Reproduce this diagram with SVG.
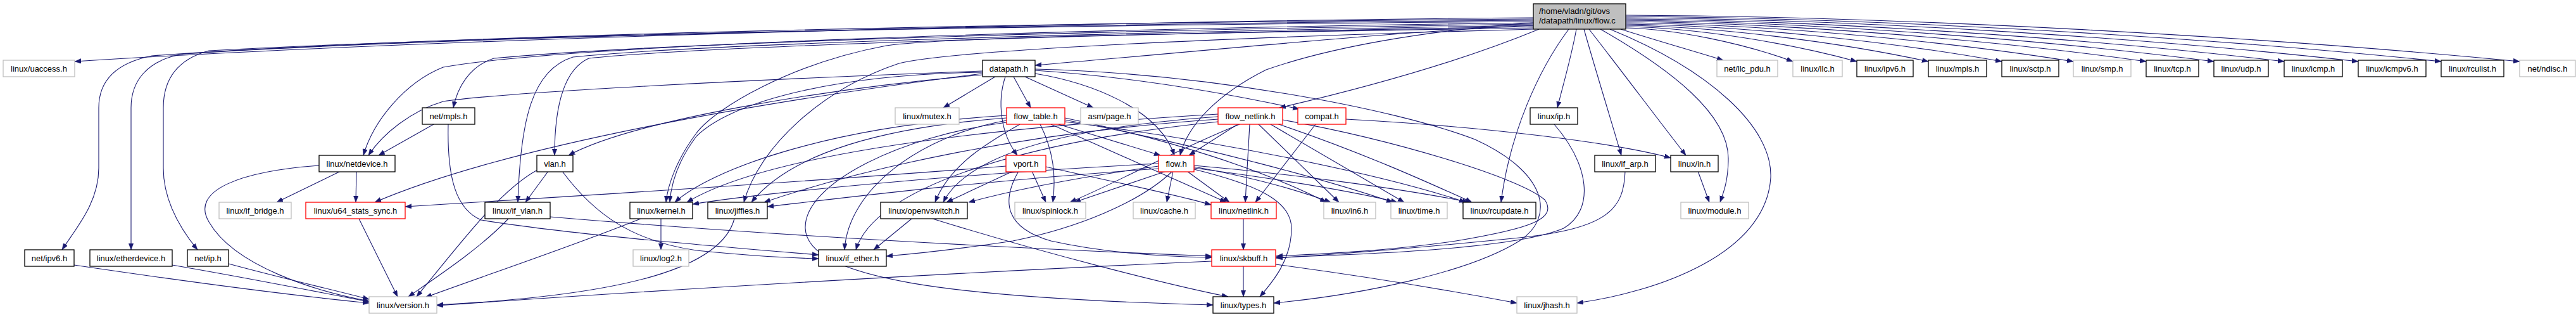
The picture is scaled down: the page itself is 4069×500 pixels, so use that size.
<svg xmlns="http://www.w3.org/2000/svg" width="4069" height="500" viewBox="0 0 4069 500">
<defs>
<marker id="a" markerUnits="userSpaceOnUse" markerWidth="11" markerHeight="8" refX="10" refY="3.75" orient="auto">
<path d="M0,0 L10,3.75 L0,7.5 z" fill="#191970" stroke="#191970" stroke-width="0.5"/>
</marker>
</defs>
<style>
.e path{fill:none;stroke:#191970;stroke-width:1.1;marker-end:url(#a)}
rect{fill:#fff;stroke-width:1.3}
.k rect{stroke:#000}
.g rect{stroke:#bfbfbf}
.r rect{stroke:#ff0000}
text{font-family:"Liberation Sans",Arial,sans-serif;font-size:13px;fill:#000;text-anchor:middle}
</style>
<rect x="0" y="0" width="4069" height="500" style="fill:#fff;stroke:none"/>
<g class="e" id="edges">
<path d="M2422,28 C1700,34 700,60 118,97"/>
<path d="M2422,30 C1600,36 700,55 240,88 C180,100 156,130 156,170 L156,265 C156,320 120,360 98,394"/>
<path d="M2422,32 C1600,38 700,58 290,85 C230,95 207,130 207,170 L207,394"/>
<path d="M2422,34 C1600,40 800,55 330,80 C275,95 258,130 258,170 L258,265 C258,310 280,355 312,394"/>
<path d="M2422,36 C1700,45 900,70 700,106 C640,130 590,190 574,245"/>
<path d="M2422,38 C1700,48 1000,70 780,92 C740,105 722,140 716,170"/>
<path d="M2422,40 C1700,52 1100,70 905,90 C840,110 822,190 818,319"/>
<path d="M2422,42 C1700,54 1100,74 930,92 C890,110 876,170 876,245"/>
<path d="M2422,44 C1900,52 1500,58 1400,72 C1250,100 1130,170 1100,210 C1070,250 1055,290 1052,319"/>
<path d="M2422,46 C1900,60 1500,80 1420,100 C1300,140 1200,230 1175,319"/>
<path d="M2422,40 C2200,50 1850,85 1635,103"/>
<path d="M2422,36 C2250,48 2100,75 2000,110 C1920,150 1875,200 1864,245"/>
<path d="M2431,46 C2300,100 2150,140 2021,170"/>
<path d="M2490,46 C2482,90 2470,130 2460,170"/>
<path d="M2478,46 C2430,110 2385,210 2371,319"/>
<path d="M2502,46 C2520,110 2545,190 2561,245"/>
<path d="M2510,46 C2560,110 2620,190 2663,245"/>
<path d="M2528,46 C2640,110 2730,180 2730,250 C2730,285 2722,305 2717,319"/>
<path d="M2543,46 C2700,110 2800,200 2797,280 C2790,400 2620,460 2491,478"/>
<path d="M2560,46 C2620,65 2680,82 2722,95"/>
<path d="M2568,44 C2647,46 2753,68 2832,97"/>
<path d="M2568,42 C2678,44 2824,67 2933,97"/>
<path d="M2568,40 C2711,42 2903,66 3046,97"/>
<path d="M2568,38 C2746,40 2984,65 3162,97"/>
<path d="M2568,36 C2780,38 3063,63 3275,97"/>
<path d="M2568,34 C2815,36 3143,62 3390,97"/>
<path d="M2568,32 C2847,34 3218,61 3497,97"/>
<path d="M2568,30 C2880,32 3296,60 3608,97"/>
<path d="M2568,28 C2915,30 3378,58 3725,97"/>
<path d="M2568,26 C2954,28 3470,57 3856,97"/>
<path d="M2568,24 C2992,26 3556,56 3980,97"/>
<path d="M1572,121 L1490,170"/>
<path d="M1601,121 L1628,170"/>
<path d="M1619,121 L1727,170"/>
<path d="M1588,121 C1575,160 1580,210 1607,245"/>
<path d="M1635,116 C1720,130 1830,170 1855,245"/>
<path d="M1635,111 C1800,122 1950,150 2052,172"/>
<path d="M1635,109 C1900,115 2200,170 2330,220 C2440,270 2460,340 2400,380 C2320,430 2150,465 2012,478"/>
<path d="M1552,112 C1200,125 800,145 700,160 C650,175 605,210 582,245"/>
<path d="M1552,116 C1200,160 800,230 592,319"/>
<path d="M1552,118 C1300,140 1000,190 898,245"/>
<path d="M1552,114 C1300,118 1150,165 1100,215 C1070,255 1060,290 1058,319"/>
<path d="M1611,196 C1560,225 1500,260 1477,319"/>
<path d="M1643,196 C1665,240 1668,280 1663,319"/>
<path d="M1672,196 L1833,245"/>
<path d="M1660,196 L1937,319"/>
<path d="M1590,182 C1300,200 1120,270 1066,319"/>
<path d="M1590,186 C1400,200 1250,240 1187,319"/>
<path d="M1590,190 C1450,215 1340,300 1334,394"/>
<path d="M1590,193 C1420,215 1270,290 1272,360 C1275,440 1500,470 1916,481"/>
<path d="M1682,186 C1850,220 2000,270 2095,319"/>
<path d="M1682,189 C1900,230 2100,285 2200,319"/>
<path d="M1682,192 C1950,225 2200,280 2315,319"/>
<path d="M1955,196 L1878,245"/>
<path d="M1974,196 L1967,319"/>
<path d="M1958,196 C1850,240 1760,290 1690,319"/>
<path d="M1988,196 L2115,319"/>
<path d="M2007,196 L2218,319"/>
<path d="M2017,195 C2150,240 2250,285 2325,319"/>
<path d="M1924,184 C1700,200 1530,240 1490,319"/>
<path d="M1924,180 C1500,205 1200,250 1085,319"/>
<path d="M1924,188 C1600,210 1350,270 1207,319"/>
<path d="M1924,192 C1600,225 1380,300 1352,394"/>
<path d="M2026,189 C2200,220 2400,280 2440,315 C2460,345 2420,360 2300,380 C2200,395 2100,400 2016,404"/>
<path d="M1830,262 C1700,280 1600,300 1530,319"/>
<path d="M1842,270 L1697,319"/>
<path d="M1853,270 L1843,319"/>
<path d="M1875,270 L1942,319"/>
<path d="M1886,263 C1980,280 2050,300 2102,319"/>
<path d="M1886,265 C2000,280 2130,300 2207,319"/>
<path d="M1886,261 C2050,275 2230,300 2320,319"/>
<path d="M1886,267 C1980,290 2040,315 2040,360 C2040,410 2010,445 1990,468"/>
<path d="M1852,270 C1800,320 1700,360 1600,380 C1500,395 1450,400 1400,404"/>
<path d="M1830,258 C1500,275 1200,305 1094,322"/>
<path d="M1830,266 C1550,285 1350,310 1212,326"/>
<path d="M1600,270 L1495,319"/>
<path d="M1630,270 L1652,319"/>
<path d="M1652,263 C1750,285 1850,305 1913,323"/>
<path d="M1609,270 C1580,320 1590,360 1660,380 C1750,400 1850,405 1914,406"/>
<path d="M1589,262 C1300,285 900,310 640,326"/>
<path d="M2078,196 L1983,319"/>
<path d="M2126,188 C2350,200 2550,225 2639,249"/>
<path d="M538,270 L437,319"/>
<path d="M563,270 L562,319"/>
<path d="M504,261 C380,270 300,300 330,350 C370,420 500,460 583,475"/>
<path d="M685,196 L598,245"/>
<path d="M708,196 C706,280 720,330 760,347 C900,370 1150,390 1293,402"/>
<path d="M866,270 L830,319"/>
<path d="M849,268 C790,300 730,380 658,468"/>
<path d="M888,270 C940,340 1000,380 1100,395 C1200,405 1250,407 1293,408"/>
<path d="M803,345 C760,390 700,430 645,468"/>
<path d="M869,342 C1200,370 1600,392 1914,404"/>
<path d="M1044,345 L1044,394"/>
<path d="M1012,345 C900,390 750,440 672,469"/>
<path d="M1160,345 C1140,420 1000,465 690,481"/>
<path d="M567,345 L628,468"/>
<path d="M117,418 C300,445 450,465 583,478"/>
<path d="M272,418 C400,440 500,460 583,476"/>
<path d="M361,416 C450,440 530,458 583,472"/>
<path d="M1473,345 C1650,400 1850,450 1940,468"/>
<path d="M1440,345 L1380,394"/>
<path d="M1964,345 L1964,394"/>
<path d="M1964,420 L1964,468"/>
<path d="M1914,412 C1500,430 1000,460 690,482"/>
<path d="M2015,417 C2150,435 2300,460 2396,478"/>
<path d="M2455,196 C2510,260 2520,330 2470,360 C2400,390 2200,400 2016,406"/>
<path d="M2567,270 C2565,330 2540,360 2400,375 C2200,395 2100,402 2016,407"/>
<path d="M2682,270 L2700,319"/>
</g>
<g id="root" class="k"><rect x="2422" y="6" width="146" height="40" style="fill:#bfbfbf"/><text x="2431" y="21.5" style="text-anchor:start">/home/vladn/git/ovs</text><text x="2431" y="36.5" style="text-anchor:start">/datapath/linux/flow.c</text></g>
<g id="n_uaccess" class="g"><rect x="5" y="95" width="113" height="26"/><text x="61.5" y="112.5">linux/uaccess.h</text></g>
<g id="n_datapath" class="k"><rect x="1552" y="95" width="83" height="26"/><text x="1593.5" y="112.5">datapath.h</text></g>
<g id="n_llc_pdu" class="g"><rect x="2712" y="95" width="96" height="26"/><text x="2760" y="112.5">net/llc_pdu.h</text></g>
<g id="n_llc" class="g"><rect x="2832" y="95" width="78" height="26"/><text x="2871" y="112.5">linux/llc.h</text></g>
<g id="n_ipv6" class="k"><rect x="2933" y="95" width="89" height="26"/><text x="2977.5" y="112.5">linux/ipv6.h</text></g>
<g id="n_mpls" class="k"><rect x="3046" y="95" width="92" height="26"/><text x="3092" y="112.5">linux/mpls.h</text></g>
<g id="n_sctp" class="k"><rect x="3162" y="95" width="90" height="26"/><text x="3207" y="112.5">linux/sctp.h</text></g>
<g id="n_smp" class="g"><rect x="3275" y="95" width="91" height="26"/><text x="3320.5" y="112.5">linux/smp.h</text></g>
<g id="n_tcp" class="k"><rect x="3390" y="95" width="83" height="26"/><text x="3431.5" y="112.5">linux/tcp.h</text></g>
<g id="n_udp" class="k"><rect x="3497" y="95" width="86" height="26"/><text x="3540" y="112.5">linux/udp.h</text></g>
<g id="n_icmp" class="k"><rect x="3608" y="95" width="92" height="26"/><text x="3654" y="112.5">linux/icmp.h</text></g>
<g id="n_icmpv6" class="k"><rect x="3725" y="95" width="107" height="26"/><text x="3778.5" y="112.5">linux/icmpv6.h</text></g>
<g id="n_rculist" class="k"><rect x="3856" y="95" width="99" height="26"/><text x="3905.5" y="112.5">linux/rculist.h</text></g>
<g id="n_ndisc" class="g"><rect x="3980" y="95" width="88" height="26"/><text x="4024" y="112.5">net/ndisc.h</text></g>
<g id="n_netmpls" class="k"><rect x="667" y="170" width="83" height="26"/><text x="708.5" y="187.5">net/mpls.h</text></g>
<g id="n_mutex" class="g"><rect x="1414" y="170" width="101" height="26"/><text x="1464.5" y="187.5">linux/mutex.h</text></g>
<g id="n_flow_table" class="r"><rect x="1590" y="170" width="92" height="26"/><text x="1636" y="187.5">flow_table.h</text></g>
<g id="n_page" class="g"><rect x="1707" y="170" width="91" height="26"/><text x="1752.5" y="187.5">asm/page.h</text></g>
<g id="n_flow_netlink" class="r"><rect x="1924" y="170" width="102" height="26"/><text x="1975" y="187.5">flow_netlink.h</text></g>
<g id="n_compat" class="r"><rect x="2050" y="170" width="76" height="26"/><text x="2088" y="187.5">compat.h</text></g>
<g id="n_ip" class="k"><rect x="2417" y="170" width="75" height="26"/><text x="2454.5" y="187.5">linux/ip.h</text></g>
<g id="n_netdevice" class="k"><rect x="504" y="245" width="120" height="26"/><text x="564" y="262.5">linux/netdevice.h</text></g>
<g id="n_vlan" class="k"><rect x="848" y="245" width="57" height="26"/><text x="876.5" y="262.5">vlan.h</text></g>
<g id="n_vport" class="r"><rect x="1589" y="245" width="63" height="26"/><text x="1620.5" y="262.5">vport.h</text></g>
<g id="n_flow" class="r"><rect x="1830" y="245" width="56" height="26"/><text x="1858" y="262.5">flow.h</text></g>
<g id="n_if_arp" class="k"><rect x="2519" y="245" width="96" height="26"/><text x="2567" y="262.5">linux/if_arp.h</text></g>
<g id="n_in" class="k"><rect x="2639" y="245" width="75" height="26"/><text x="2676.5" y="262.5">linux/in.h</text></g>
<g id="n_if_bridge" class="g"><rect x="346" y="319" width="114" height="26"/><text x="403" y="336.5">linux/if_bridge.h</text></g>
<g id="n_u64" class="r"><rect x="483" y="319" width="157" height="26"/><text x="561.5" y="336.5">linux/u64_stats_sync.h</text></g>
<g id="n_if_vlan" class="k"><rect x="766" y="319" width="103" height="26"/><text x="817.5" y="336.5">linux/if_vlan.h</text></g>
<g id="n_kernel" class="k"><rect x="995" y="319" width="99" height="26"/><text x="1044.5" y="336.5">linux/kernel.h</text></g>
<g id="n_jiffies" class="k"><rect x="1118" y="319" width="94" height="26"/><text x="1165" y="336.5">linux/jiffies.h</text></g>
<g id="n_openvswitch" class="k"><rect x="1391" y="319" width="137" height="26"/><text x="1459.5" y="336.5">linux/openvswitch.h</text></g>
<g id="n_spinlock" class="g"><rect x="1603" y="319" width="112" height="26"/><text x="1659" y="336.5">linux/spinlock.h</text></g>
<g id="n_cache" class="g"><rect x="1790" y="319" width="98" height="26"/><text x="1839" y="336.5">linux/cache.h</text></g>
<g id="n_netlink" class="r"><rect x="1913" y="319" width="103" height="26"/><text x="1964.5" y="336.5">linux/netlink.h</text></g>
<g id="n_in6" class="g"><rect x="2091" y="319" width="82" height="26"/><text x="2132" y="336.5">linux/in6.h</text></g>
<g id="n_time" class="g"><rect x="2197" y="319" width="89" height="26"/><text x="2241.5" y="336.5">linux/time.h</text></g>
<g id="n_rcupdate" class="k"><rect x="2311" y="319" width="115" height="26"/><text x="2368.5" y="336.5">linux/rcupdate.h</text></g>
<g id="n_module" class="g"><rect x="2655" y="319" width="107" height="26"/><text x="2708.5" y="336.5">linux/module.h</text></g>
<g id="n_netipv6" class="k"><rect x="39" y="394" width="78" height="26"/><text x="78" y="411.5">net/ipv6.h</text></g>
<g id="n_etherdevice" class="k"><rect x="142" y="394" width="130" height="26"/><text x="207" y="411.5">linux/etherdevice.h</text></g>
<g id="n_netip" class="k"><rect x="296" y="394" width="65" height="26"/><text x="328.5" y="411.5">net/ip.h</text></g>
<g id="n_log2" class="g"><rect x="1000" y="394" width="88" height="26"/><text x="1044" y="411.5">linux/log2.h</text></g>
<g id="n_if_ether" class="k"><rect x="1293" y="394" width="107" height="26"/><text x="1346.5" y="411.5">linux/if_ether.h</text></g>
<g id="n_skbuff" class="r"><rect x="1914" y="394" width="101" height="26"/><text x="1964.5" y="411.5">linux/skbuff.h</text></g>
<g id="n_version" class="g"><rect x="583" y="468" width="107" height="26"/><text x="636.5" y="485.5">linux/version.h</text></g>
<g id="n_types" class="k"><rect x="1916" y="468" width="96" height="26"/><text x="1964" y="485.5">linux/types.h</text></g>
<g id="n_jhash" class="g"><rect x="2396" y="468" width="95" height="26"/><text x="2443.5" y="485.5">linux/jhash.h</text></g>
</svg>
